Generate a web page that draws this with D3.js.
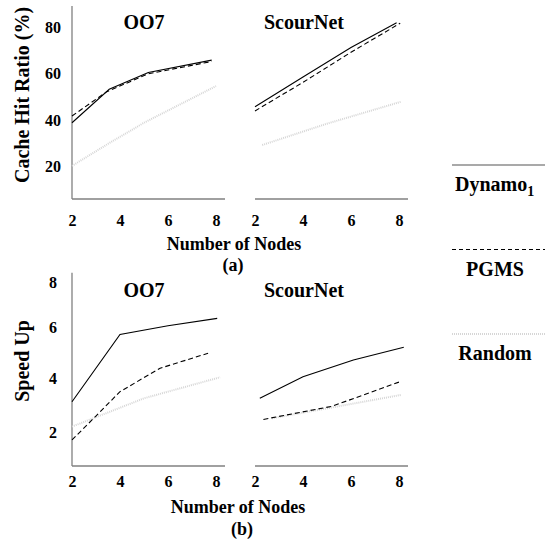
<!DOCTYPE html>
<html>
<head>
<meta charset="utf-8">
<script src="https://cdn.jsdelivr.net/npm/d3@7"></script>
<style>
  body { margin: 0; background: #fff; }
  svg text { font-family: "Liberation Serif", "Times New Roman", Times, "DejaVu Serif", serif !important; font-weight: bold; fill: #000; }
</style>
</head>
<body>
<div id="canvas"></div>
<script>
// x values (number of nodes) and y values
var nodeTicks = [2, 4, 6, 8];
var hitTicks = [20, 40, 60, 80];
var speedTicks = [2, 4, 6, 8];

// (a) cache hit ratio, OO7
var hitOO7DynamoX = [2, 3.55, 5.18, 7.82];
var hitOO7DynamoY = [38.6, 53.0, 60.3, 65.6];
var hitOO7PgmsX = [2, 3.45, 5.18, 7.82];
var hitOO7PgmsY = [41.5, 52.0, 59.7, 65.0];
var hitOO7RandomX = [2, 3.5, 5.0, 8.0];
var hitOO7RandomY = [20.0, 29.5, 38.6, 54.4];

// (a) cache hit ratio, ScourNet
var hitScourDynamoX = [2, 4, 6, 7.9];
var hitScourDynamoY = [45.5, 58.3, 71.0, 81.7];
var hitScourPgmsX = [2, 4, 6, 8.05];
var hitScourPgmsY = [43.7, 56.0, 69.0, 81.5];
var hitScourRandomX = [2.3, 5.0, 8.1];
var hitScourRandomY = [29.0, 38.2, 47.7];

// (b) speed up, OO7
var spOO7DynamoX = [2, 4, 6, 8.05];
var spOO7DynamoY = [3.12, 5.7, 6.04, 6.37];
var spOO7PgmsX = [2, 2.9, 4, 5.67, 7.67];
var spOO7PgmsY = [1.69, 2.5, 3.5, 4.39, 4.97];
var spOO7RandomX = [2, 5.0, 6.0, 8.17];
var spOO7RandomY = [2.19, 3.25, 3.5, 4.04];

// (b) speed up, ScourNet
var spScourDynamoX = [2.2, 4.0, 6.1, 8.2];
var spScourDynamoY = [3.25, 4.06, 4.71, 5.2];
var spScourPgmsX = [2.35, 5.2, 8.04];
var spScourPgmsY = [2.46, 2.95, 3.87];
var spScourRandomX = [2.7, 8.1];
var spScourRandomY = [2.5, 3.38];

var legendNames = ["Dynamo", "PGMS", "Random"];

var styles = {
  Dynamo: {stroke: "#000", width: 1.1, dash: null},
  PGMS: {stroke: "#000", width: 1.1, dash: "5,3"},
  Random: {stroke: "#d6d6d6", width: 2, dash: "1,1"}
};

var svg = d3.select("#canvas").append("svg")
  .attr("width", 553)
  .attr("height", 540);

// scales
var xLeft = d3.scaleLinear().domain([2, 8]).range([72, 216]);
var xRight = d3.scaleLinear().domain([2, 8]).range([255, 399]);
var yHit = d3.scaleLinear().domain([0, 80]).range([212.3, 26.7]);
// tick labels of the speed-up axis are not evenly spaced in the figure
var ySpeed = d3.scaleLinear().domain([2, 4, 6, 8]).range([431.7, 378.3, 326.7, 281.7]);

function zip(xs, ys) {
  return xs.map(function(v, i) { return [v, ys[i]]; });
}

function drawSeries(x, y, xs, ys, name) {
  var st = styles[name];
  var line = d3.line()
    .x(function(d) { return x(d[0]); })
    .y(function(d) { return y(d[1]); });
  svg.append("path")
    .datum(zip(xs, ys))
    .attr("fill", "none")
    .attr("stroke", st.stroke)
    .attr("stroke-width", st.width)
    .attr("stroke-dasharray", st.dash)
    .attr("d", line);
}

// frame lines and tick labels of one row
function drawRow(o) {
  var frame = svg.append("g").attr("stroke", "#808080").attr("stroke-width", 1.3);
  frame.append("line").attr("x1", xLeft(2)).attr("x2", xLeft(2)).attr("y1", o.topY).attr("y2", o.baseY);
  frame.append("line").attr("x1", xLeft(2)).attr("x2", xLeft(8) + 9).attr("y1", o.baseY).attr("y2", o.baseY);
  frame.append("line").attr("x1", xRight(2)).attr("x2", xRight(8) + 9).attr("y1", o.baseY).attr("y2", o.baseY);

  [xLeft, xRight].forEach(function(x) {
    var ax = svg.append("g")
      .attr("transform", "translate(0," + o.baseY + ")")
      .call(d3.axisBottom(x).tickValues(nodeTicks).tickFormat(d3.format("d"))
        .tickSize(0).tickPadding(o.pad));
    ax.select(".domain").remove();
    ax.selectAll("text").style("font-size", "16px");
  });

  var ay = svg.append("g")
    .attr("transform", "translate(" + xLeft(2) + ",0)")
    .call(d3.axisLeft(o.y).tickValues(o.ticks).tickFormat(d3.format("d")).tickSize(0));
  ay.select(".domain").remove();
  ay.selectAll("text").attr("x", -19).attr("dy", "0.35em")
    .style("text-anchor", "middle").style("font-size", "16px");

  svg.append("text")
    .attr("transform", "translate(29," + o.labelY + ") rotate(-90)")
    .attr("text-anchor", "middle")
    .style("font-size", "20px")
    .text(o.label);

  svg.append("text").attr("x", 144).attr("y", o.titleY)
    .attr("text-anchor", "middle").style("font-size", "20px").text("OO7");
  svg.append("text").attr("x", 304).attr("y", o.titleY)
    .attr("text-anchor", "middle").style("font-size", "20px").text("ScourNet");

  svg.append("text").attr("x", o.capX).attr("y", o.capY)
    .attr("text-anchor", "middle").style("font-size", "18px").text("Number of Nodes");
  svg.append("text").attr("x", o.tagX).attr("y", o.tagY)
    .attr("text-anchor", "middle").style("font-size", "18px").text(o.tag);
}

drawRow({y: yHit, ticks: hitTicks, baseY: 199, topY: 6, pad: 16,
  label: "Cache Hit Ratio (%)", labelY: 95, titleY: 29,
  capX: 234, capY: 250, tag: "(a)", tagX: 233, tagY: 271});
drawRow({y: ySpeed, ticks: speedTicks, baseY: 466, topY: 272.7, pad: 10,
  label: "Speed Up", labelY: 361, titleY: 297,
  capX: 238, capY: 513, tag: "(b)", tagX: 242, tagY: 535});

// (a)
drawSeries(xLeft, yHit, hitOO7RandomX, hitOO7RandomY, "Random");
drawSeries(xLeft, yHit, hitOO7PgmsX, hitOO7PgmsY, "PGMS");
drawSeries(xLeft, yHit, hitOO7DynamoX, hitOO7DynamoY, "Dynamo");
drawSeries(xRight, yHit, hitScourRandomX, hitScourRandomY, "Random");
drawSeries(xRight, yHit, hitScourPgmsX, hitScourPgmsY, "PGMS");
drawSeries(xRight, yHit, hitScourDynamoX, hitScourDynamoY, "Dynamo");

// (b)
drawSeries(xLeft, ySpeed, spOO7RandomX, spOO7RandomY, "Random");
drawSeries(xLeft, ySpeed, spOO7PgmsX, spOO7PgmsY, "PGMS");
drawSeries(xLeft, ySpeed, spOO7DynamoX, spOO7DynamoY, "Dynamo");
drawSeries(xRight, ySpeed, spScourRandomX, spScourRandomY, "Random");
drawSeries(xRight, ySpeed, spScourPgmsX, spScourPgmsY, "PGMS");
drawSeries(xRight, ySpeed, spScourDynamoX, spScourDynamoY, "Dynamo");

// legend
var legend = svg.selectAll(".legend")
  .data(legendNames)
  .enter().append("g")
  .attr("class", "legend")
  .attr("transform", function(d, i) { return "translate(0," + (165 + i * 84.5) + ")"; });

legend.append("line")
  .attr("x1", 452).attr("x2", 545)
  .attr("y1", 0).attr("y2", 0)
  .attr("stroke", function(d) { return d === "Dynamo" ? "#555" : styles[d].stroke; })
  .attr("stroke-width", function(d) { return styles[d].width; })
  .attr("stroke-dasharray", function(d) { return d === "PGMS" ? "4,3" : styles[d].dash; });

var lt = legend.append("text")
  .attr("x", function(d) { return d === "Dynamo" ? 455 : 495; })
  .attr("y", 26)
  .attr("text-anchor", function(d) { return d === "Dynamo" ? "start" : "middle"; })
  .style("font-size", "20px")
  .text(function(d) { return d; });

lt.filter(function(d) { return d === "Dynamo"; })
  .append("tspan")
  .attr("dy", 5)
  .style("font-size", "14px")
  .text("1");
</script>
</body>
</html>
